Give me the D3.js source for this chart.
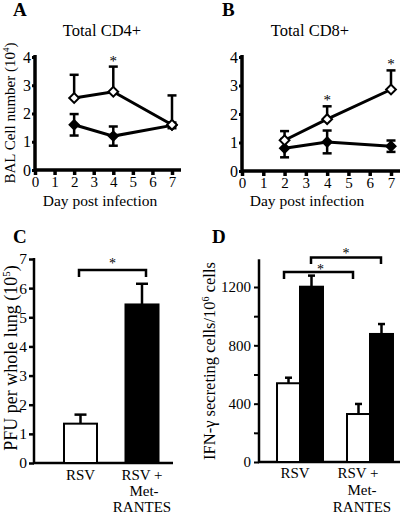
<!DOCTYPE html>
<html><head><meta charset="utf-8">
<script src="https://cdn.jsdelivr.net/npm/d3@7"></script>
<style>
body{margin:0;background:#fff;}
</style></head>
<body><svg id="c" width="400" height="515" font-family="'Liberation Serif', 'DejaVu Serif', serif"></svg>
<script>
// ---- data ----
const days = [2, 4, 7];
const cd4Open = [2.55, 2.77, 1.6];
const cd4OpenErr = [0.82, 0.89, 1.04];
const cd4Filled = [1.6, 1.2, 1.58];
const cd4FilledErr = [0.38, 0.34, 0.1];
const cd4Star = [4];
const cd8Open = [1.08, 1.82, 2.86];
const cd8OpenErr = [0.32, 0.45, 0.67];
const cd8Filled = [0.8, 1.02, 0.87];
const cd8FilledErr = [0.32, 0.4, 0.2];
const cd8Star = [4, 7];
const dayTicks = [0, 1, 2, 3, 4, 5, 6, 7];
const cellTicks = [0, 1, 2, 3, 4];
const pfuGroups = ["RSV", "RSV + Met-RANTES"];
const pfuValues = [1.35, 5.44];
const pfuErr = [0.31, 0.71];
const pfuTicks = [0, 1, 2, 3, 4, 5, 6, 7];
const ifnGroups = ["RSV", "RSV + Met-RANTES"];
const ifnSeries = ["open", "filled"];
const ifnValues = [[540, 1202], [329, 878]];
const ifnErr = [[38, 76], [69, 68]];
const ifnTicks = [0, 200, 400, 600, 800, 1000, 1200];
const ifnTickLabels = [0, 400, 800, 1200];

const FONT = "'Liberation Serif', 'DejaVu Serif', serif";
const svg = d3.select("#c");

function txt(g, x, y, s, size){
  return g.append("text").attr("x", x).attr("y", y).attr("font-family", FONT).attr("font-size", size).attr("fill", "#000").text(s);
}
function styleAxis(a, size){
  a.attr("font-family", FONT);
  a.selectAll("text").attr("font-size", size).attr("fill", "#000").attr("font-family", FONT);
}
function letter(t, x, y){
  txt(svg, x, y, t, 19).attr("font-weight", "bold");
}

function linePanel(opt){
  const g = svg.append("g");
  const x = d3.scaleLinear().domain([0, 7]).range(opt.xr);
  const y = d3.scaleLinear().domain([0, 4]).range(opt.yr);
  const xa = g.append("g").attr("transform", `translate(0,${opt.yr[0]})`)
    .call(d3.axisBottom(x).tickValues(dayTicks).tickFormat(d3.format("d")).tickSize(5).tickPadding(1).tickSizeOuter(0));
  xa.select(".domain").attr("stroke-width", 3.5).attr("d", `M${opt.xr[0]},0H${opt.xend}`);
  xa.selectAll(".tick line").attr("stroke-width", 3.5);
  styleAxis(xa, 15);
  const ya = g.append("g").attr("transform", `translate(${opt.xr[0]},0)`)
    .call(d3.axisLeft(y).tickValues(cellTicks).tickFormat(d3.format("d")).tickSize(3).tickPadding(1).tickSizeOuter(0));
  ya.select(".domain").attr("stroke-width", 3.5).attr("d", `M0,${opt.yr[1]-2}V${opt.yr[0]}`);
  ya.selectAll(".tick line").attr("stroke-width", 3);
  styleAxis(ya, 16);
  txt(g, opt.xlabelX, 206, "Day post infection", 15.5).attr("text-anchor", "middle");
  txt(g, opt.titleX, 36, opt.title, 16.5).attr("text-anchor", "middle");

  const fl = d3.line().x((d, i) => x(days[i])).y(d => y(d));
  g.append("path").datum(opt.filled).attr("d", fl).attr("fill", "none").attr("stroke", "#000").attr("stroke-width", 3);
  g.append("path").datum(opt.open).attr("d", fl).attr("fill", "none").attr("stroke", "#000").attr("stroke-width", 3);
  opt.filled.forEach((v, i) => {
    const cx = x(days[i]), e = opt.filledErr[i];
    g.append("line").attr("x1", cx).attr("x2", cx).attr("y1", y(v + e)).attr("y2", y(v - e)).attr("stroke", "#000").attr("stroke-width", 2.5);
    [v + e, v - e].forEach(w => g.append("line").attr("x1", cx - 4.5).attr("x2", cx + 4.5).attr("y1", y(w)).attr("y2", y(w)).attr("stroke", "#000").attr("stroke-width", 2.5));
  });
  opt.open.forEach((v, i) => {
    const cx = x(days[i]), e = opt.openErr[i];
    g.append("line").attr("x1", cx).attr("x2", cx).attr("y1", y(v + e)).attr("y2", y(v)).attr("stroke", "#000").attr("stroke-width", 2.5);
    g.append("line").attr("x1", cx - 4.5).attr("x2", cx + 4.5).attr("y1", y(v + e)).attr("y2", y(v + e)).attr("stroke", "#000").attr("stroke-width", 2.5);
  });
  const dia = d3.symbol().type(d3.symbolSquare).size(48);
  opt.filled.forEach((v, i) => {
    g.append("path").attr("d", dia).attr("transform", `translate(${x(days[i])},${y(v)}) rotate(45)`).attr("fill", "#000").attr("stroke", "#000").attr("stroke-width", 1.5);
  });
  opt.open.forEach((v, i) => {
    g.append("path").attr("d", dia).attr("transform", `translate(${x(days[i])},${y(v)}) rotate(45)`).attr("fill", "#fff").attr("stroke", "#000").attr("stroke-width", 2);
  });
  opt.stars.forEach(d => {
    const i = days.indexOf(d);
    txt(g, x(d), y(opt.open[i] + opt.openErr[i]) - 1, "*", 15).attr("text-anchor", "middle");
  });
  if (opt.ylabel){
    const t = g.append("text").attr("transform", `translate(15,${opt.ylabelY}) rotate(-90)`).attr("text-anchor", "middle")
      .attr("font-size", 15).attr("font-family", FONT).attr("fill", "#000");
    t.append("tspan").text("BAL Cell number (10");
    t.append("tspan").attr("font-size", 9).attr("dy", -6).text("4");
    t.append("tspan").attr("dy", 6).text(")");
  }
}

letter("A", 13, 16);
letter("B", 222, 16);
linePanel({xr: [35, 172], yr: [170, 57], xend: 181, title: "Total CD4+", titleX: 102, xlabelX: 100, open: cd4Open, openErr: cd4OpenErr, filled: cd4Filled, filledErr: cd4FilledErr, stars: cd4Star, ylabel: true, ylabelY: 113});
linePanel({xr: [242, 391], yr: [171, 57], xend: 400, title: "Total CD8+", titleX: 310, xlabelX: 307, open: cd8Open, openErr: cd8OpenErr, filled: cd8Filled, filledErr: cd8FilledErr, stars: cd8Star, ylabel: false});

// ---- Panel C ----
letter("C", 13, 243);
{
  const g = svg.append("g");
  const x = d3.scaleBand().domain(pfuGroups).range([35.5, 187]).paddingInner(0.4634).paddingOuter(0.4634);
  const y = d3.scaleLinear().domain([0, 7]).range([463, 259]);
  const ya = g.append("g").attr("transform", "translate(34,0)")
    .call(d3.axisLeft(y).tickValues(pfuTicks).tickFormat(d3.format("d")).tickSize(5).tickPadding(2).tickSizeOuter(0));
  ya.select(".domain").attr("stroke-width", 2.5).attr("d", "M0,258V463");
  ya.selectAll(".tick line").attr("stroke-width", 2.5);
  styleAxis(ya, 15.5);
  g.append("line").attr("x1", 33).attr("x2", 173).attr("y1", 463).attr("y2", 463).attr("stroke", "#000").attr("stroke-width", 2.5);
  pfuGroups.forEach((c, i) => {
    const v = pfuValues[i], e = pfuErr[i], cx = x(c) + x.bandwidth() / 2;
    g.append("line").attr("x1", cx).attr("x2", cx).attr("y1", y(v + e)).attr("y2", y(v)).attr("stroke", "#000").attr("stroke-width", 2.5);
    g.append("line").attr("x1", cx - 6).attr("x2", cx + 6).attr("y1", y(v + e)).attr("y2", y(v + e)).attr("stroke", "#000").attr("stroke-width", 2.5);
    g.append("rect").attr("x", x(c)).attr("y", y(v)).attr("width", x.bandwidth()).attr("height", y(0) - y(v))
      .attr("fill", i === 0 ? "#fff" : "#000").attr("stroke", "#000").attr("stroke-width", 2);
  });
  const c0 = x(pfuGroups[0]) + x.bandwidth() / 2 - 1.5, c1 = x(pfuGroups[1]) + x.bandwidth() / 2 + 4;
  g.append("path").attr("d", `M${c0},277V270H${c1}V277`).attr("fill", "none").attr("stroke", "#000").attr("stroke-width", 2.5);
  txt(g, (c0 + c1) / 2, 268, "*", 14).attr("text-anchor", "middle");
  const lx0 = x(pfuGroups[0]) + x.bandwidth() / 2, lx1 = x(pfuGroups[1]) + x.bandwidth() / 2;
  txt(g, lx0, 480, "RSV", 15).attr("text-anchor", "middle");
  txt(g, lx1, 480, "RSV +", 15).attr("text-anchor", "middle");
  txt(g, lx1 + 2, 496, "Met-", 15).attr("text-anchor", "middle");
  txt(g, lx1, 512, "RANTES", 15).attr("text-anchor", "middle");
  const t = g.append("text").attr("transform", "translate(17,358) rotate(-90)").attr("text-anchor", "middle")
    .attr("font-size", 18).attr("font-family", FONT).attr("fill", "#000");
  t.append("tspan").text("PFU per whole lung (10");
  t.append("tspan").attr("font-size", 11).attr("dy", -7).text("5");
  t.append("tspan").attr("dy", 7).text(")");
}

// ---- Panel D ----
letter("D", 212, 243);
{
  const g = svg.append("g");
  const x0 = d3.scaleBand().domain(ifnGroups).range([253, 417]).paddingInner(0.343).paddingOuter(0.343);
  const x1 = d3.scaleBand().domain(ifnSeries).range([0, x0.bandwidth()]).padding(0);
  const y = d3.scaleLinear().domain([0, 1200]).range([462, 287]);
  const ya = g.append("g").attr("transform", "translate(259,0)")
    .call(d3.axisLeft(y).tickValues(ifnTicks).tickSize(5).tickPadding(3).tickSizeOuter(0)
      .tickFormat(d => ifnTickLabels.includes(d) ? d : ""));
  ya.select(".domain").attr("stroke-width", 2.5).attr("d", `M0,${y(1390)}V462`);
  ya.selectAll(".tick line").attr("stroke-width", 2);
  styleAxis(ya, 15);
  g.append("line").attr("x1", 258).attr("x2", 400).attr("y1", 462).attr("y2", 462).attr("stroke", "#000").attr("stroke-width", 2.5);
  ifnGroups.forEach((c, gi) => {
    ifnSeries.forEach((s, si) => {
      const v = ifnValues[gi][si], e = ifnErr[gi][si];
      const bx = x0(c) + x1(s), cx = bx + x1.bandwidth() / 2;
      g.append("line").attr("x1", cx).attr("x2", cx).attr("y1", y(v + e)).attr("y2", y(v)).attr("stroke", "#000").attr("stroke-width", 2.5);
      g.append("line").attr("x1", cx - 3.5).attr("x2", cx + 3.5).attr("y1", y(v + e)).attr("y2", y(v + e)).attr("stroke", "#000").attr("stroke-width", 2.5);
      g.append("rect").attr("x", bx).attr("y", y(v)).attr("width", x1.bandwidth()).attr("height", y(0) - y(v))
        .attr("fill", si === 0 ? "#fff" : "#000").attr("stroke", "#000").attr("stroke-width", 2);
    });
  });
  const wA = x0(ifnGroups[0]) + 7, wB = x0(ifnGroups[1]) + 6;
  g.append("path").attr("d", `M${wA},279V272H${wB}V279`).attr("fill", "none").attr("stroke", "#000").attr("stroke-width", 2.5);
  txt(g, (wA + wB) / 2 + 2, 274, "*", 14).attr("text-anchor", "middle");
  const bA = x0(ifnGroups[0]) + x1.bandwidth() + 11, bB = x0(ifnGroups[1]) + x1.bandwidth() + 11;
  g.append("path").attr("d", `M${bA},264V257.5H${bB}V264`).attr("fill", "none").attr("stroke", "#000").attr("stroke-width", 2.5);
  txt(g, (bA + bB) / 2, 258, "*", 14).attr("text-anchor", "middle");
  const l0 = x0(ifnGroups[0]) + x0.bandwidth() / 2 - 5, l1 = x0(ifnGroups[1]) + x0.bandwidth() / 2 - 12;
  txt(g, l0, 478, "RSV", 15).attr("text-anchor", "middle");
  txt(g, l1, 478, "RSV +", 15).attr("text-anchor", "middle");
  txt(g, l1 + 4, 495, "Met-", 15).attr("text-anchor", "middle");
  txt(g, l1 + 4, 512, "RANTES", 15).attr("text-anchor", "middle");
  const t = g.append("text").attr("transform", "translate(215,361) rotate(-90)").attr("text-anchor", "middle")
    .attr("font-size", 16.5).attr("font-family", FONT).attr("fill", "#000");
  t.append("tspan").text("IFN-γ secreting cells/10");
  t.append("tspan").attr("font-size", 10).attr("dy", -6).text("6");
  t.append("tspan").attr("dy", 6).text(" cells");
}
</script></body></html>
